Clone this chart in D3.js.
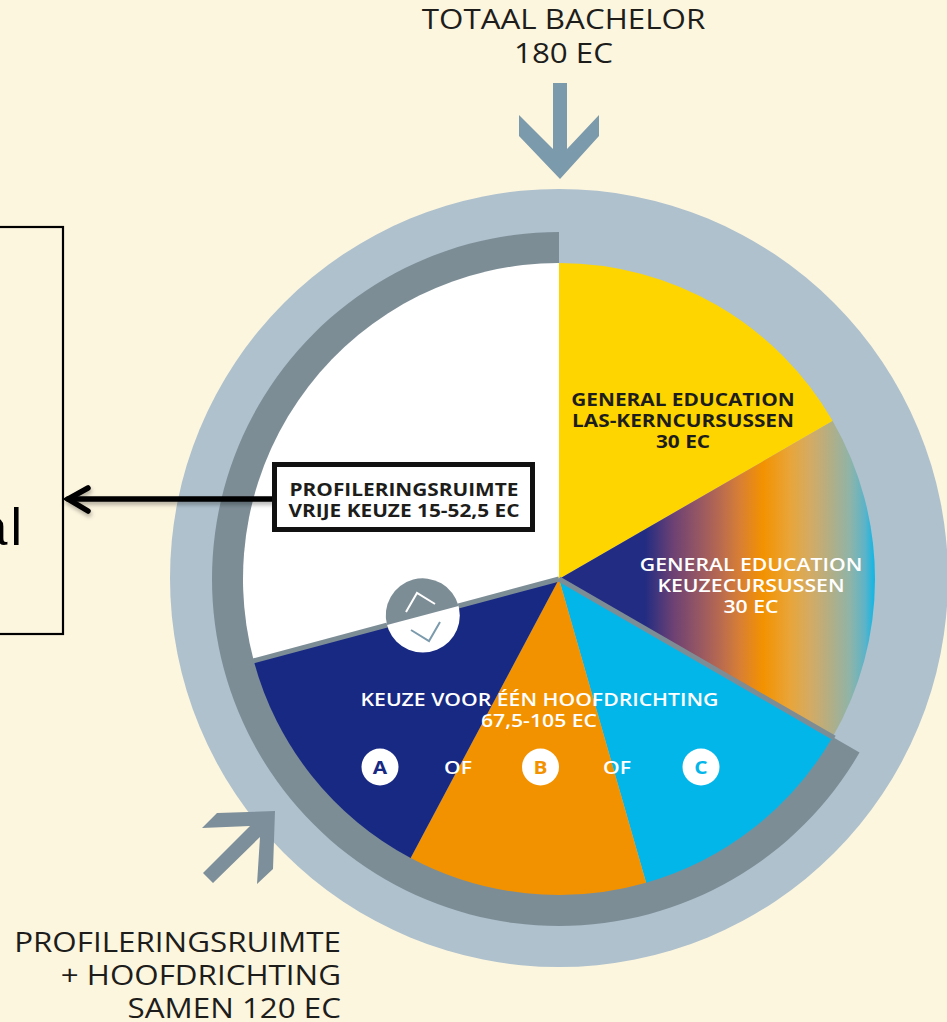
<!DOCTYPE html>
<html>
<head>
<meta charset="utf-8">
<style>
html, body { margin: 0; padding: 0; background: #fdf6df; overflow: hidden; }
text { font-family: "Open Sans", sans-serif; }
</style>
<script src="https://cdn.jsdelivr.net/npm/d3@7"></script>
</head>
<body>
<div id="chart"></div>
<script>
// EC per slice, clockwise from 12 o'clock
const sliceNames = ["LAS-kern", "GE-keuze", "C", "B", "A", "Vrije keuze"];
const sliceValues = [30, 30, 22, 22, 23.5, 52.5];
const sliceColors = ["#ffd500", "url(#geGrad)", "#03b6ea", "#f39200", "#182983", "#ffffff"];
const totalEC = 180;
const ringEC = 120;

const choiceLetters = ["A", "B", "C"];
const choiceColors = ["#182983", "#f39200", "#03b6ea"];
const choiceX = [380, 540.5, 701];
const ofX = [458, 617];

const gradX = [645, 672, 700, 720, 740, 763, 790, 810, 830, 850, 865, 875];
const gradColors = ["#222c82", "#6a4074", "#985862", "#b86a50", "#d87f34", "#f39200", "#e8a53a", "#d4ab63", "#b3ae85", "#8fb4a8", "#5db3c8", "#0fb6e6"];

let width = 947, height = 1022;
let cx = 559, cy = 579, rPie = 316, rRingIn = 315, rRingOut = 347, rOuter = 389;

let svg = d3.select("#chart")
  .append("svg")
  .attr("width", width)
  .attr("height", height)
  .style("display", "block");

let defs = svg.append("defs");
let grad = defs.append("linearGradient")
  .attr("id", "geGrad")
  .attr("gradientUnits", "userSpaceOnUse")
  .attr("x1", gradX[0] - cx).attr("x2", gradX[gradX.length - 1] - cx)
  .attr("y1", 0).attr("y2", 0);
let gradOffset = d3.scaleLinear().domain([gradX[0], gradX[gradX.length - 1]]).range([0, 1]);
gradX.forEach((x, i) => {
  grad.append("stop").attr("offset", gradOffset(x)).attr("stop-color", gradColors[i]);
});

let shadow = defs.append("filter").attr("id", "shadow")
  .attr("x", "-10%").attr("y", "-50%").attr("width", "120%").attr("height", "200%");
shadow.append("feDropShadow")
  .attr("dx", 1).attr("dy", 3).attr("stdDeviation", 2)
  .attr("flood-color", "#000").attr("flood-opacity", 0.3);

let angle = d3.scaleLinear().domain([0, totalEC]).range([0, 2 * Math.PI]);

let g = svg.append("g").attr("transform", "translate(" + cx + "," + cy + ")");

// outer disc
g.append("circle").attr("cy", -1).attr("r", rOuter).attr("fill", "#aec1cd");

// dark ring = profilering + hoofdrichting
g.append("path")
  .attr("d", d3.arc()
    .innerRadius(rRingIn).outerRadius(rRingOut)
    .startAngle(2 * Math.PI - angle(ringEC)).endAngle(2 * Math.PI))
  .attr("fill", "#7d8d96");

// slices
let pie = d3.pie().sort(null).value(d => d).startAngle(0).endAngle(2 * Math.PI);
let slices = pie(sliceValues);
let arcGen = d3.arc().innerRadius(0).outerRadius(rPie);

g.selectAll("path.slice")
  .data(slices)
  .enter()
  .append("path")
  .attr("class", "slice")
  .attr("d", arcGen)
  .attr("fill", (d, i) => sliceColors[i]);

// knob on the separator, drawn as a white disc with a grey half
let sepEnd = slices[4].endAngle;
let polar = (a, r) => [r * Math.sin(a), -r * Math.cos(a)];
let knobPos = polar(sepEnd, 141);
let knob = svg.append("g").attr("transform", "translate(" + (cx + knobPos[0]) + "," + (cy + knobPos[1]) + ")");
knob.append("circle").attr("r", 37).attr("fill", "#ffffff");
knob.append("path")
  .attr("d", d3.arc().innerRadius(0).outerRadius(37)
    .startAngle(sepEnd).endAngle(sepEnd + Math.PI))
  .attr("fill", "#7d8d96");

// separators
[slices[1].endAngle, sepEnd].forEach(a => {
  let p = polar(a, rPie + 2);
  g.append("line")
    .attr("x1", 0).attr("y1", 0).attr("x2", p[0]).attr("y2", p[1])
    .attr("stroke", "#7d8d96").attr("stroke-width", 5);
});

// knob chevrons
let poly = d3.line();
svg.append("path").attr("d", poly([[406, 612], [417, 593], [435, 604]]))
  .attr("fill", "none").attr("stroke", "#ffffff").attr("stroke-width", 2);
svg.append("path").attr("d", poly([[411, 630], [429, 641], [440, 622]]))
  .attr("fill", "none").attr("stroke", "#7b9aac").attr("stroke-width", 2);

// big arrows
svg.append("path")
  .attr("d", poly([[553, 83], [567, 83], [567, 149], [599, 115], [599, 136], [560, 179], [519, 136], [519, 115], [553, 149]]) + "Z")
  .attr("fill", "#7b9aac");
svg.append("path")
  .attr("d", poly([[275, 811], [217, 813], [202, 828], [250, 826], [203, 873], [213, 883], [260, 837], [257, 884], [273, 869]]) + "Z")
  .attr("fill", "#7d8f9a");

// left box
svg.append("rect")
  .attr("x", -10).attr("y", 227).attr("width", 73).attr("height", 407)
  .attr("fill", "none").attr("stroke", "#000").attr("stroke-width", 2.2);
svg.append("text")
  .attr("x", 25).attr("y", 545)
  .attr("text-anchor", "end")
  .style("font-family", "'Liberation Sans', sans-serif")
  .style("font-size", "52px")
  .style("letter-spacing", "3px")
  .attr("fill", "#000")
  .text("al");

// callout arrow
let callout = svg.append("g").attr("filter", "url(#shadow)")
  .attr("fill", "none").attr("stroke", "#000").attr("stroke-width", 5.5).attr("stroke-linecap", "round");
callout.append("path").attr("d", poly([[272, 499], [68, 499]]));
callout.append("path").attr("d", poly([[88, 488], [68, 499], [88, 511]]));

// callout box
svg.append("rect")
  .attr("x", 274.5).attr("y", 464.5).attr("width", 258).attr("height", 65)
  .attr("fill", "#fff").attr("stroke", "#111").attr("stroke-width", 5);

// the source picture is stretched sideways, so the glyphs get a horizontal scale
function label(x, y, str, size, color, weight, stretch, anchor) {
  return svg.append("text")
    .attr("transform", "translate(" + x + "," + y + ") scale(" + (stretch || 1) + ",1)")
    .attr("text-anchor", anchor || "middle")
    .attr("fill", color)
    .style("font-size", size + "px")
    .style("font-weight", weight)
    .text(str);
}

label(404, 496, "PROFILERINGSRUIMTE", 18.6, "#1d1d1b", 700, 1.12);
label(404, 517, "VRIJE KEUZE 15-52,5 EC", 18.6, "#1d1d1b", 700, 1.12);

label(683, 406, "GENERAL EDUCATION", 18.6, "#1d1d1b", 700, 1.12);
label(683, 427, "LAS-KERNCURSUSSEN", 18.6, "#1d1d1b", 700, 1.12);
label(683, 448, "30 EC", 18.6, "#1d1d1b", 700, 1.12);

label(751, 571, "GENERAL EDUCATION", 18.6, "#fff", 600, 1.14);
label(751, 592, "KEUZECURSUSSEN", 18.6, "#fff", 600, 1.14);
label(751, 613, "30 EC", 18.6, "#fff", 600, 1.14);

label(539.5, 706, "KEUZE VOOR ÉÉN HOOFDRICHTING", 18.6, "#fff", 600, 1.14);
label(539, 727, "67,5-105 EC", 18.6, "#fff", 600, 1.14);

choiceLetters.forEach((c, i) => {
  svg.append("circle").attr("cx", choiceX[i]).attr("cy", 767).attr("r", 18.5).attr("fill", "#fff");
  label(choiceX[i], 774, c, 18.6, choiceColors[i], 700, 1.12);
});
ofX.forEach(x => label(x, 774, "OF", 18.6, "#fff", 600, 1.14));

// outer captions
label(563.5, 29, "TOTAAL BACHELOR", 28, "#1d1d1b", 400, 1.12);
label(563.5, 63, "180 EC", 28, "#1d1d1b", 400, 1.12);

label(341, 952, "PROFILERINGSRUIMTE", 28, "#1d1d1b", 400, 1.12, "end");
label(341, 985, "+ HOOFDRICHTING", 28, "#1d1d1b", 400, 1.12, "end");
label(341, 1018, "SAMEN 120 EC", 28, "#1d1d1b", 400, 1.12, "end");
</script>
</body>
</html>
